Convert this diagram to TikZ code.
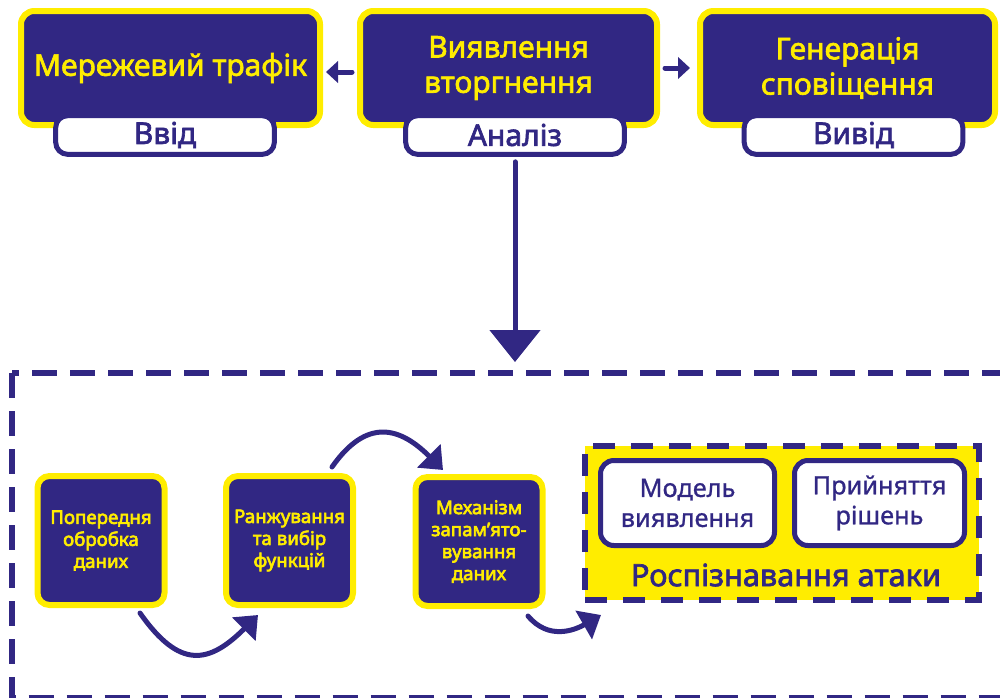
\documentclass[tikz,border=0pt]{standalone}
\usepackage{fontspec}
\setmainfont{Noto Sans}
\newfontfamily\heavyfont{Noto Sans}[FakeBold=2.2]
\newfontfamily\smallheavyfont{Noto Sans}[FakeBold=3.4]
\newfontfamily\midfont{Noto Sans}[FakeBold=0.9]
\usetikzlibrary{arrows.meta,calc}
\definecolor{navy}{RGB}{49,39,131}
\definecolor{sun}{RGB}{255,237,0}

\begin{document}
\begin{tikzpicture}[x=0.75pt,y=-0.75pt,
  stagebox/.style={draw=sun, fill=navy, line width=4.5pt, rounded corners=10pt,
    inner sep=0pt, text=sun, font=\heavyfont\fontsize{22.5}{26.5}\selectfont,
    align=center, minimum height=85.5pt},
  tagbox/.style={draw=navy, fill=white, line width=3.75pt, rounded corners=9pt,
    inner sep=0pt, text=navy, font=\heavyfont\fontsize{22.5}{26}\selectfont,
    minimum width=164pt, minimum height=29pt},
  stepbox/.style={draw=sun, fill=navy, line width=4.5pt, rounded corners=9pt,
    inner sep=0pt, text=sun, font=\smallheavyfont\fontsize{14}{16.5}\selectfont,
    align=center, minimum width=95.25pt, minimum height=96.75pt},
  attackbox/.style={draw=navy, fill=sun, line width=4.5pt,
    dash pattern=on 16.5pt off 12pt, inner sep=0pt,
    minimum width=295.5pt, minimum height=115.5pt},
  modelbox/.style={draw=navy, fill=white, line width=3.75pt, rounded corners=10pt,
    inner sep=0pt, text=navy, font=\midfont\fontsize{19}{22.5}\selectfont,
    align=center, minimum height=63.75pt},
  flow/.style={draw=navy, line width=3.75pt, line cap=round},
  sidehead/.style={-{Triangle[width=16pt,length=9pt]}},
  bighead/.style={-{Triangle[width=37.5pt,length=24pt]}},
  bendhead/.style={-{Triangle[width=24pt,length=15pt]}},
]
\useasboundingbox (0,0) rectangle (1000,697);
\clip (0,0) rectangle (1000,697);

% outer dashed frame of the analysis stage
\draw[navy, line width=4.5pt, dash pattern=on 18.75pt off 9.75pt]
  (11.5,373) rectangle (1020,698);

% top row
\node[stagebox, minimum width=224.25pt] (t1) at (170.5,68) {Мережевий трафік};
\node[stagebox, minimum width=222.75pt] (t2) at (508.5,68) {Виявлення\\вторгнення};
\node[stagebox, minimum width=221.25pt] (t3) at (847.5,68) {Генерація\\сповіщення};

\node[tagbox] (l1) at (165,135) {Ввід};
\node[tagbox] (l2) at (515,135) {Аналіз};
\node[tagbox] (l3) at (853.5,135) {Вивід};

\draw[flow, sidehead, shorten >=2.25pt] ($(t2.west)+(-5,4)$) -- ($(t1.east)+(0,4)$);
\draw[flow, sidehead, shorten >=5.25pt] ($(t2.east)+(5,0)$) -- (t3.west);

\coordinate (drop) at (515,362);
\draw[flow, bighead] ($(l2.south)+(0,5)$) -- (drop);

% processing steps
\node[stepbox] (a) at (101,540.5) {Попередня\\обробка\\даних};
\node[stepbox] (b) at (289.5,540.5) {Ранжування\\та вибір\\функцій};
\node[stepbox] (c) at (479,541.5) {Механізм\\запам’ято-\\вування\\даних};

% attack recognition block
\node[attackbox] (r) at (782,523) {};
\node[modelbox, minimum width=130.5pt] (m1) at (687.5,503) {Модель\\виявлення};
\node[modelbox, minimum width=127.5pt] (m2) at (879.5,503) {Прийняття\\рішень};
\node[text=navy, font=\heavyfont\fontsize{23}{27}\selectfont] (rcap) at (786,575)
  {Роспізнавання атаки};

% bent connectors between the steps
\coordinate (ab1) at ($(a.south)+(39,5)$);
\coordinate (ab2) at ($(b.south)+(-31.5,7)$);
\draw[flow, bendhead] (ab1) to[out=-55, in=-135, looseness=1.5] (ab2);

\coordinate (bc1) at ($(b.north)+(42.5,-6)$);
\coordinate (bc2) at ($(c.north)+(-36,-4)$);
\draw[flow, bendhead] (bc1) to[out=55, in=135, looseness=1.4] (bc2);

\coordinate (cr1) at ($(c.south)+(49,7)$);
\coordinate (cr2) at ($(r.south west)+(19,12)$);
\draw[flow, bendhead] (cr1) to[out=-50, in=-150, looseness=1.1] (cr2);
\end{tikzpicture}
\end{document}
